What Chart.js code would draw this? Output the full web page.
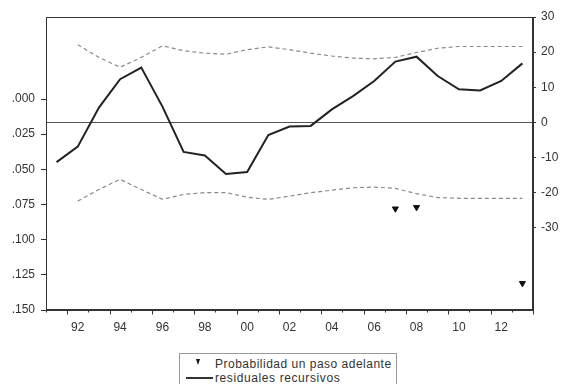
<!DOCTYPE html>
<html>
<head>
<meta charset="utf-8">
<script src="https://cdn.jsdelivr.net/npm/chart.js@4/dist/chart.umd.min.js"></script>
<style>
  html, body { margin: 0; padding: 0; background: #fff; }
  #wrap { position: relative; width: 561px; height: 384px; overflow: hidden; }
  #chart { position: absolute; left: 0; top: 0; }
  #legend {
    position: absolute; left: 179px; top: 353px; width: 216px; height: 60px;
    border: 1px solid #9a9a9a; background: #fff;
    font: 12px "Liberation Sans", Arial, sans-serif; color: #333;
  }
  #legend .txt { position: absolute; left: 35px; white-space: nowrap; line-height: 14px; }
  #legend .tri {
    position: absolute; left: 16px; top: 5px; width: 0; height: 0;
    border-left: 2.5px solid transparent; border-right: 2.5px solid transparent;
    border-top: 6px solid #111;
  }
  #legend .ln { position: absolute; left: 6px; top: 23px; width: 27px; height: 2px; background: #333; }
</style>
</head>
<body>
<div id="wrap">
  <canvas id="chart" width="561" height="384"></canvas>
  <div id="legend">
    <span class="tri"></span>
    <span class="txt" style="top:3px;letter-spacing:0.5px">Probabilidad un paso adelante</span>
    <span class="ln"></span>
    <span class="txt" style="top:17px;letter-spacing:0.6px">residuales recursivos</span>
  </div>
</div>
<script>
// Annual observations
const years = [1991, 1992, 1993, 1994, 1995, 1996, 1997, 1998, 1999, 2000, 2001, 2002,
               2003, 2004, 2005, 2006, 2007, 2008, 2009, 2010, 2011, 2012, 2013];

// Recursive residuals (right axis)
const residuals = [-11.3, -6.9, 4.2, 12.3, 15.6, 4.5, -8.4, -9.4, -14.7, -14.1, -3.6, -1.2,
                   -1.0, 3.7, 7.5, 11.8, 17.3, 18.7, 13.2, 9.4, 9.1, 11.8, 16.8];

// +/- 2 standard error bands (right axis)
const upperBand = [null, 22.1, 18.5, 15.7, 18.5, 21.8, 20.4, 19.7, 19.4, 20.7, 21.5, 20.7,
                   19.7, 18.9, 18.3, 18.1, 18.5, 19.9, 21.1, 21.6, 21.6, 21.6, 21.6];
const lowerBand = [null, -22.4, -19.1, -16.2, -19.1, -21.9, -20.5, -20.0, -20.0, -21.3, -21.9, -21.0,
                   -20.0, -19.3, -18.6, -18.4, -18.8, -20.3, -21.4, -21.6, -21.6, -21.6, -21.6];

// One-step-ahead probabilities (left axis, only values below .15)
const oneStepProb = [null, null, null, null, null, null, null, null, null, null, null, null,
                     null, null, null, null, 0.078, 0.077, null, null, null, null, 0.131];

// Axis tick values
const probTicks = [0, 0.025, 0.05, 0.075, 0.1, 0.125, 0.15];
const residTicks = [-30, -20, -10, 0, 10, 20, 30];

const FONT = { family: '"Liberation Sans", Arial, sans-serif', size: 12 };
const AXIS_COLOR = '#333';

// Frame, zero line and year tick marks
const decor = {
  id: 'decor',
  beforeDatasetsDraw(chart) {
    const { ctx, chartArea: a, scales } = chart;
    const y0 = Math.round(scales.y2.getPixelForValue(0)) + 0.5;
    ctx.save();
    ctx.strokeStyle = '#555';
    ctx.lineWidth = 1;
    ctx.beginPath();
    ctx.moveTo(a.left, y0);
    ctx.lineTo(a.right, y0);
    ctx.stroke();
    ctx.restore();
  },
  afterDraw(chart) {
    const { ctx, chartArea: a, scales } = chart;
    ctx.save();
    ctx.strokeStyle = AXIS_COLOR;
    ctx.lineWidth = 1;
    ctx.strokeRect(Math.round(a.left) + 0.5, Math.round(a.top) + 0.5,
                   Math.round(a.right - a.left) - 1, Math.round(a.bottom - a.top) - 1);
    const xs = scales.x;
    const yb = Math.round(a.bottom) - 0.5;
    ctx.beginPath();
    for (let i = 0; i <= years.length; i++) {
      const x = Math.round(xs.getPixelForValue(i - 0.5)) + 0.5;
      const major = (years[0] + i) % 2 === 0;
      ctx.moveTo(x, yb);
      ctx.lineTo(x, yb + (major ? 5 : 3));
    }
    ctx.stroke();
    ctx.restore();
  }
};

new Chart(document.getElementById('chart'), {
  type: 'line',
  data: {
    labels: years,
    datasets: [
      {
        label: 'Probabilidad un paso adelante',
        data: oneStepProb,
        yAxisID: 'y',
        showLine: false,
        pointStyle: 'triangle',
        rotation: 180,
        pointRadius: 3.5,
        pointBackgroundColor: '#111',
        pointBorderColor: '#111',
        borderWidth: 1
      },
      {
        label: 'residuales recursivos',
        data: residuals,
        yAxisID: 'y2',
        borderColor: '#222',
        borderWidth: 2,
        pointRadius: 0,
        tension: 0
      },
      {
        label: '± 2 E.E.',
        data: upperBand,
        yAxisID: 'y2',
        borderColor: '#8a8a8a',
        borderWidth: 1.2,
        borderDash: [4, 3],
        pointRadius: 0,
        tension: 0
      },
      {
        label: '± 2 E.E. (inferior)',
        data: lowerBand,
        yAxisID: 'y2',
        borderColor: '#8a8a8a',
        borderWidth: 1.2,
        borderDash: [4, 3],
        pointRadius: 0,
        tension: 0
      }
    ]
  },
  options: {
    responsive: false,
    animation: false,
    layout: { padding: { top: 17, left: 0, right: 0, bottom: 0 } },
    plugins: { legend: { display: false }, tooltip: { enabled: false } },
    scales: {
      x: {
        type: 'category',
        offset: true,
        grid: { display: true, drawOnChartArea: false, drawTicks: false, offset: true },
        border: { display: true, color: AXIS_COLOR },
        ticks: {
          autoSkip: false, maxRotation: 0, minRotation: 0, padding: 10,
          color: '#333', font: FONT,
          callback: (v, i) => years[i] % 2 === 0 ? String(years[i]).slice(2) : ''
        },
        afterFit: s => { s.height = 74; }
      },
      y: {
        position: 'left',
        reverse: true,
        min: -0.0583,
        max: 0.15,
        afterBuildTicks: s => { s.ticks = probTicks.map(v => ({ value: v })); },
        grid: { drawOnChartArea: false, tickLength: 5, color: AXIS_COLOR },
        border: { display: true, color: AXIS_COLOR },
        ticks: {
          padding: 6, color: '#333', font: FONT,
          callback: v => v.toFixed(3).replace(/^0/, '')
        },
        afterFit: s => { s.width = 46; }
      },
      y2: {
        position: 'right',
        min: -53.4,
        max: 30,
        afterBuildTicks: s => { s.ticks = residTicks.map(v => ({ value: v })); },
        grid: { drawOnChartArea: false, tickLength: 3, color: AXIS_COLOR },
        border: { display: true, color: AXIS_COLOR },
        ticks: { padding: 5, color: '#333', font: FONT, callback: v => String(v) },
        afterFit: s => { s.width = 28; }
      }
    }
  },
  plugins: [decor]
});
</script>
</body>
</html>
